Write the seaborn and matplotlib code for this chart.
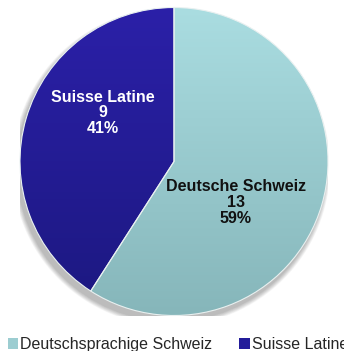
import numpy as np
import matplotlib
matplotlib.use("Agg")
import matplotlib.pyplot as plt
from matplotlib.patches import Circle, Patch
from matplotlib.colors import LinearSegmentedColormap
import seaborn as sns

sns.set_theme(style="white")
plt.rcParams["font.family"] = ["Liberation Sans", "DejaVu Sans"]

# Data
regions = ["Deutsche Schweiz", "Suisse Latine"]
legend_names = ["Deutschsprachige Schweiz", "Suisse Latine"]
counts = [13, 9]
# top / bottom shades of each slice
top_colors = ["#AADDE1", "#2B20A8"]
bottom_colors = ["#86B6BA", "#1C1880"]
legend_colors = ["#9CCDD1", "#231C9A"]

W, H = 344, 351
fig = plt.figure(figsize=(W / 100, H / 100), dpi=100)
fig.patch.set_facecolor("white")

cx, cy, r = 174, 161.5, 154
ax = fig.add_axes([(cx - r) / W, 1 - (cy + r) / H, 2 * r / W, 2 * r / H])
ax.axis("off")

# soft drop shadow below the pie
for k in range(8):
    ax.add_patch(Circle((-0.018, -0.035), 1.0 + 0.004 * (8 - k),
                        color="#000000", alpha=0.035, lw=0, zorder=0))

wedges, _ = ax.pie(counts, startangle=90, counterclock=False, radius=1.0,
                   colors=top_colors,
                   wedgeprops=dict(edgecolor="#E8F0F0", linewidth=0.8))

# vertical gradient clipped to every wedge
yy = np.linspace(1, 0, 256).reshape(-1, 1)
for w, ct, cb in zip(wedges, top_colors, bottom_colors):
    cmap = LinearSegmentedColormap.from_list("g", [cb, ct])
    im = ax.imshow(yy, cmap=cmap, extent=(-1, 1, -1, 1), aspect="auto",
                   zorder=w.get_zorder() + 0.1, interpolation="bicubic")
    im.set_clip_path(w)
    w.set_zorder(w.get_zorder() + 0.2)
    w.set_facecolor("none")

ax.set_xlim(-1, 1)
ax.set_ylim(-1, 1)
ax.set_aspect("auto")

total = sum(counts)
label_pos = [(0.40, -0.265), (-0.46, 0.315)]
for name, n, (lx, ly), tc in zip(regions, counts, label_pos, ["#111111", "white"]):
    ax.text(lx, ly, f"{name}\n{n}\n{n / total:.0%}", ha="center", va="center",
            fontsize=11.5, fontweight="bold", color=tc, linespacing=1.08,
            zorder=5)

handles = [Patch(facecolor=c, edgecolor="none") for c in legend_colors]
fig.legend(handles, legend_names, loc="lower left", bbox_to_anchor=(0.013, -0.012),
           ncol=2, frameon=False, fontsize=11.5, handlelength=0.65, handleheight=0.65,
           handletextpad=0.13, columnspacing=1.7, borderaxespad=0.0,
           borderpad=0.2)

fig.savefig("out.png", dpi=100, facecolor="white")
